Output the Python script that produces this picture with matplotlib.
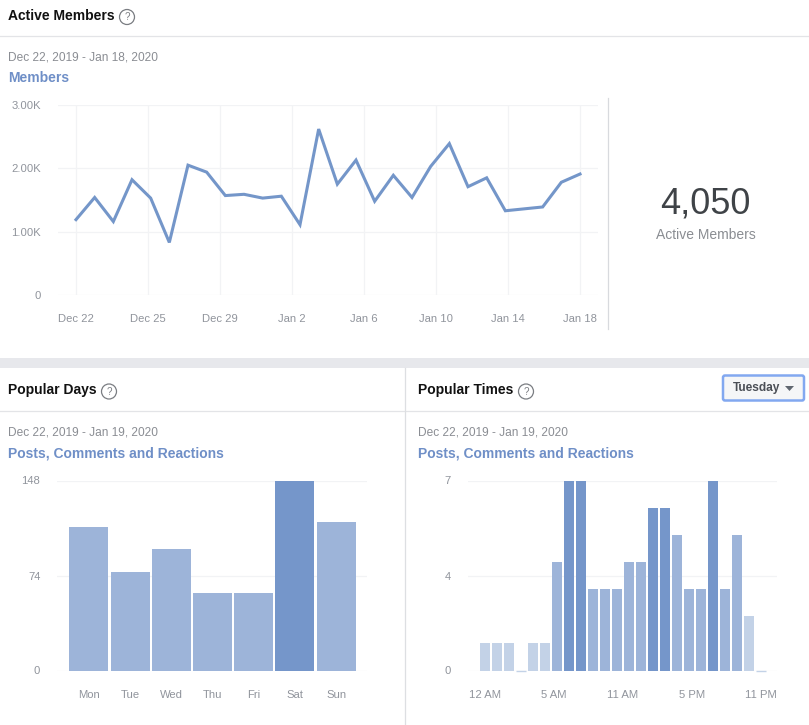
import numpy as np
import matplotlib
matplotlib.use("Agg")
import matplotlib.pyplot as plt
from matplotlib.patches import Circle, FancyBboxPatch, Polygon, Rectangle

# data
members = [1190, 1540, 1160, 1820, 1530, 830, 2050, 1940, 1570, 1590, 1530, 1560, 1110, 2620,
           1750, 2130, 1480, 1890, 1540, 2030, 2390, 1710, 1850, 1330, 1360, 1390, 1780, 1910]
member_ticks = ["Dec 22", "Dec 25", "Dec 29", "Jan 2", "Jan 6", "Jan 10", "Jan 14", "Jan 18"]
member_yticks = [0, 1000, 2000, 3000]
member_ylabels = ["0", "1.00K", "2.00K", "3.00K"]

days = ["Mon", "Tue", "Wed", "Thu", "Fri", "Sat", "Sun"]
day_values = [112, 77, 95, 60, 60, 148, 116]
day_ylabels = ["0", "74", "148"]

hour_values = [1, 1, 1, 0, 1, 1, 4, 7, 7, 3, 3, 3, 4, 4, 6, 6, 5, 3, 3, 7, 3, 5, 2, 0]
hour_ticks = ["12 AM", "5 AM", "11 AM", "5 PM", "11 PM"]
hour_ylabels = ["0", "4", "7"]

plt.rcParams["font.family"] = ["Liberation Sans", "DejaVu Sans"]

W, H = 809, 725
BLUE = "#7596ca"
MID = "#9db4d9"
LIGHT = "#c3d2e7"
GRID = "#f2f3f5"
TICK = "#90949c"
DATE = "#8a8d93"
TITLE_BLUE = "#6f8fc7"

fig = plt.figure(figsize=(W / 100, H / 100), dpi=100)


def px_axes(left, top, right, bottom):
    ax = fig.add_axes([left / W, 1 - bottom / H, (right - left) / W, (bottom - top) / H])
    ax.patch.set_alpha(0)
    for s in ax.spines.values():
        s.set_visible(False)
    ax.tick_params(length=0, labelsize=8.1, labelcolor=TICK)
    return ax


def bar_colour(v, top):
    if v >= top * 0.8:
        return BLUE
    if v >= top * 0.4:
        return MID
    return LIGHT


# page layer in pixel coordinates
bg = fig.add_axes([0, 0, 1, 1])
bg.set_xlim(0, W)
bg.set_ylim(H, 0)
bg.axis("off")
bg.add_patch(Rectangle((0, 358), W, 10, color="#e7e8ec", lw=0))
for y0 in [36, 411]:
    bg.plot([0, W], [y0, y0], color="#e3e4e7", lw=0.9)
bg.plot([405.5, 405.5], [368, H], color="#dddfe2", lw=0.9)
bg.plot([608.5, 608.5], [98, 329], color="#d8dade", lw=0.9)


def header(x, y, title, help_x):
    bg.text(x, y, title, fontsize=10, fontweight="bold", color="#111111", va="center")
    bg.add_patch(Circle((help_x, y + 1.5), 7.5, fc="white", ec="#7a7d82", lw=0.9))
    bg.text(help_x, y + 1.7, "?", fontsize=7, color="#7a7d82", ha="center", va="center")


header(8, 15.5, "Active Members", 127)
header(8, 390, "Popular Days", 109)
header(418, 390, "Popular Times", 526)

bg.text(8, 57, "Dec 22, 2019 - Jan 18, 2020", fontsize=8.6, color=DATE, va="center")
bg.text(8, 78, "Members", fontsize=10, fontweight="bold", color=TITLE_BLUE, va="center")
bg.text(8, 432, "Dec 22, 2019 - Jan 19, 2020", fontsize=8.6, color=DATE, va="center")
bg.text(8, 453, "Posts, Comments and Reactions", fontsize=10, fontweight="bold", color=TITLE_BLUE, va="center")
bg.text(418, 432, "Dec 22, 2019 - Jan 19, 2020", fontsize=8.6, color=DATE, va="center")
bg.text(418, 453, "Posts, Comments and Reactions", fontsize=10, fontweight="bold", color=TITLE_BLUE, va="center")

bg.text(705.5, 204, "4,050", fontsize=26, color="#3f4347", ha="center", va="center")
bg.text(706, 235, "Active Members", fontsize=10, color="#8a8d92", ha="center", va="center")

# Tuesday button
bg.add_patch(FancyBboxPatch((723, 375.5), 81, 25, boxstyle="round,pad=0,rounding_size=2",
                            fc="#f5f6f7", ec="#82a8f0", lw=1.8))
bg.text(733, 388, "Tuesday", fontsize=8.6, fontweight="bold", color="#4b4f56", va="center")
bg.add_patch(Polygon([[785, 386], [794, 386], [789.5, 391]], color="#606770", lw=0))

# members line
ax1 = px_axes(58, 105, 598, 295)
ax1.plot(range(len(members)), members, color="#7496c9", lw=2.2, solid_joinstyle="miter")
ax1.set_xlim(-18 / 18.67, 27 + 18 / 18.67)
ax1.set_ylim(0, 3000)
ax1.set_yticks(member_yticks, member_ylabels)
ax1.set_xticks(np.linspace(0, 27, len(member_ticks)), member_ticks)
ax1.grid(axis="both", color=GRID, lw=0.9)
ax1.set_axisbelow(True)
ax1.tick_params(axis="x", pad=14)
ax1.tick_params(axis="y", pad=12)

# popular days
ax2 = px_axes(57, 480.5, 367, 670.5)
ax2.bar(range(len(days)), day_values, width=0.95,
        color=[bar_colour(v, max(day_values)) for v in day_values], lw=0)
ax2.set_xlim(-32 / 41.3, 6 + 31 / 41.3)
ax2.set_ylim(0, 148)
ax2.set_yticks([0, 74, 148], day_ylabels)
ax2.set_xticks(range(len(days)), days)
ax2.grid(axis="y", color=GRID, lw=0.9)
ax2.set_axisbelow(True)
ax2.tick_params(axis="x", pad=14)
ax2.tick_params(axis="y", pad=12)

# popular times
ax3 = px_axes(467.5, 480.5, 777, 670.5)
ax3.bar(range(len(hour_values)), hour_values, width=0.83,
        color=[bar_colour(v, max(hour_values)) for v in hour_values], lw=0)
# empty hours still show a thin sliver on the baseline
empty = [i for i, v in enumerate(hour_values) if v == 0]
ax3.hlines([0] * len(empty), np.array(empty) - 0.415, np.array(empty) + 0.415, color=LIGHT, lw=1, clip_on=False)
ax3.set_xlim(-52 / 36, 23 + 48 / 36)
ax3.set_ylim(0, 7)
ax3.set_yticks([0, 3.5, 7], hour_ylabels)
ax3.set_xticks(np.linspace(0, 23, len(hour_ticks)), hour_ticks)
ax3.grid(axis="y", color=GRID, lw=0.9)
ax3.set_axisbelow(True)
ax3.tick_params(axis="x", pad=14)
ax3.tick_params(axis="y", pad=12)

fig.savefig("out.png", dpi=100)
